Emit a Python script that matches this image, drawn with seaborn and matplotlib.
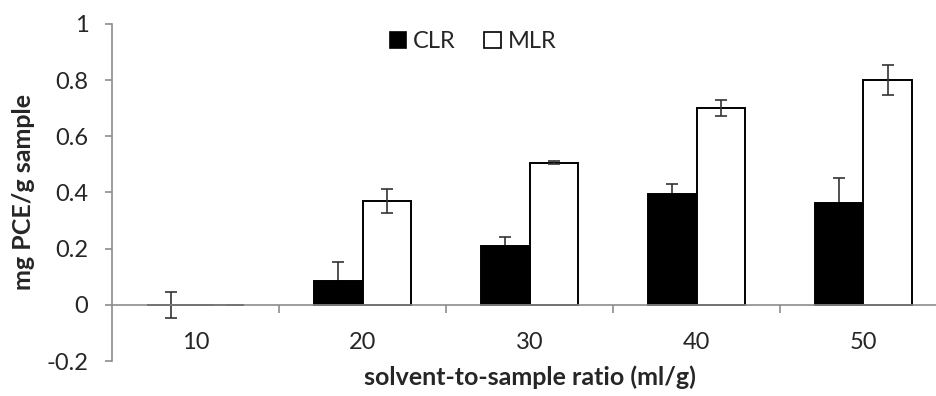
# Import necessary libraries
import pandas as pd  # Data Manipulation
import matplotlib
matplotlib.use('Agg')
import matplotlib.pyplot as plt  # Visualization
import seaborn as sns  # Visualization
from matplotlib.patches import Patch

# Chart data
ratios = ['10', '20', '30', '40', '50']
clr_values = [0.0, 0.086, 0.208, 0.396, 0.363]
clr_errors = [0.046, 0.065, 0.034, 0.035, 0.089]
mlr_values = [0.0, 0.370, 0.506, 0.701, 0.800]
mlr_errors = [0.0, 0.043, 0.005, 0.027, 0.053]
series_names = ['CLR', 'MLR']
y_ticks = [-0.2, 0, 0.2, 0.4, 0.6, 0.8, 1]

# Long-form table for seaborn
df = pd.DataFrame({
    'ratio': ratios * 2,
    'value': clr_values + mlr_values,
    'series': [series_names[0]] * len(ratios) + [series_names[1]] * len(ratios),
})

sns.set_style('white')
plt.rcParams['font.family'] = ['Lato', 'DejaVu Sans']

fig = plt.figure(figsize=(9.37, 3.96), dpi=100)
ax = fig.add_axes([112 / 937, 35 / 396, 835 / 937, 337 / 396])

sns.barplot(data=df, x='ratio', y='value', hue='series', order=ratios,
            hue_order=series_names, palette=['black', 'white'],
            edgecolor='black', linewidth=1.4, width=0.58, errorbar=None,
            legend=False, ax=ax, zorder=2)

# error bars on bar centres (CLR ones sit behind the black bars, as in Excel)
errors = [clr_errors, mlr_errors]
err_z = [1, 3]
for cont, err, z in zip(ax.containers, errors, err_z):
    xs = [p.get_x() + p.get_width() / 2 for p in cont.patches]
    ys = [p.get_height() for p in cont.patches]
    ax.errorbar(xs, ys, yerr=err, fmt='none', ecolor='#333333',
                elinewidth=1.2, capsize=4.3, capthick=1.2, zorder=z)

# axes styling (Excel look)
ax.set_ylim(-0.2, 1)
ax.set_xlim(-0.5, 4.5)
ax.set_yticks(y_ticks)
ax.set_yticklabels(['-0.2', '0', '0.2', '0.4', '0.6', '0.8', '1'])
for side in ['top', 'right', 'bottom']:
    ax.spines[side].set_visible(False)
ax.spines['left'].set_color('#8c8c8c')
ax.spines['left'].set_linewidth(1.2)
ax.axhline(0, color='#8c8c8c', linewidth=1.2, zorder=4)
ax.vlines([0.5, 1.5, 2.5, 3.5], -0.028, 0, color='#8c8c8c', linewidth=1.2)

ax.tick_params(axis='y', direction='out', length=5, width=1.2, color='#8c8c8c',
               labelsize=17, pad=12, left=True)
ax.tick_params(axis='x', length=0, labelsize=17, pad=-21)

ax.set_xlabel('solvent-to-sample ratio (ml/g)', fontsize=18, fontweight='bold', labelpad=3)
ax.set_ylabel('mg PCE/g sample', fontsize=18, fontweight='bold', labelpad=8)

# legend at the top centre
handles = [Patch(facecolor='black', edgecolor='black', linewidth=1.2, label='CLR'),
           Patch(facecolor='white', edgecolor='black', linewidth=1.2, label='MLR')]
fig.legend(handles=handles, loc='center', bbox_to_anchor=(0.505, 0.894), ncol=2,
           frameon=False, fontsize=17, handlelength=0.7, handleheight=0.7,
           handletextpad=0.3, columnspacing=1.2)

fig.savefig('out.png', dpi=100)
